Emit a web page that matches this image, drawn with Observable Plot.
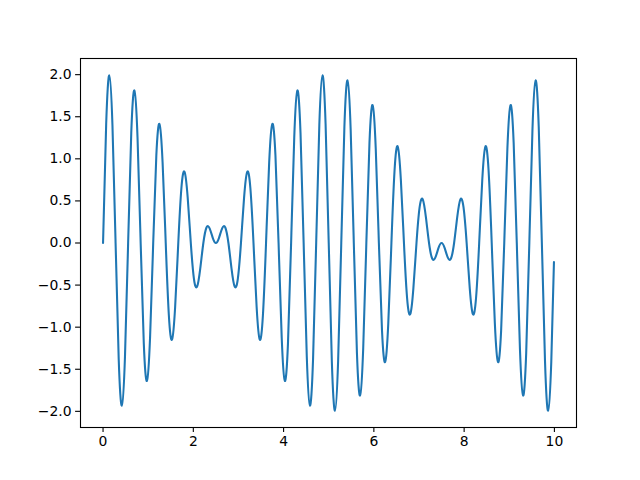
<!DOCTYPE html>
<html>
<head>
<meta charset="utf-8">
<script src="https://cdn.jsdelivr.net/npm/d3@7"></script>
<script src="https://cdn.jsdelivr.net/npm/@observablehq/plot@0.6"></script>
<style>
  html, body { margin: 0; padding: 0; background: #ffffff; }
</style>
</head>
<body>
<div id="chart"></div>
<script>
// Sample positions (x)
const xs = [
  0, 0.0694, 0.1389, 0.2083, 0.2778, 0.3472, 0.4167, 0.4861, 0.5556, 0.6250,
  0.6944, 0.7639, 0.8333, 0.9028, 0.9722, 1.0417, 1.1111, 1.1806, 1.2500, 1.3194,
  1.3889, 1.4583, 1.5278, 1.5972, 1.6667, 1.7361, 1.8056, 1.8750, 1.9444, 2.0139,
  2.0833, 2.1528, 2.2222, 2.2917, 2.3611, 2.4306, 2.5000, 2.5694, 2.6389, 2.7083,
  2.7778, 2.8472, 2.9167, 2.9861, 3.0556, 3.1250, 3.1944, 3.2639, 3.3333, 3.4028,
  3.4722, 3.5417, 3.6111, 3.6806, 3.7500, 3.8194, 3.8889, 3.9583, 4.0278, 4.0972,
  4.1667, 4.2361, 4.3056, 4.3750, 4.4444, 4.5139, 4.5833, 4.6528, 4.7222, 4.7917,
  4.8611, 4.9306, 5.0000, 5.0694, 5.1389, 5.2083, 5.2778, 5.3472, 5.4167, 5.4861,
  5.5556, 5.6250, 5.6944, 5.7639, 5.8333, 5.9028, 5.9722, 6.0417, 6.1111, 6.1806,
  6.2500, 6.3194, 6.3889, 6.4583, 6.5278, 6.5972, 6.6667, 6.7361, 6.8056, 6.8750,
  6.9444, 7.0139, 7.0833, 7.1528, 7.2222, 7.2917, 7.3611, 7.4306, 7.5000, 7.5694,
  7.6389, 7.7083, 7.7778, 7.8472, 7.9167, 7.9861, 8.0556, 8.1250, 8.1944, 8.2639,
  8.3333, 8.4028, 8.4722, 8.5417, 8.6111, 8.6806, 8.7500, 8.8194, 8.8889, 8.9583,
  9.0278, 9.0972, 9.1667, 9.2361, 9.3056, 9.3750, 9.4444, 9.5139, 9.5833, 9.6528,
  9.7222, 9.7917, 9.8611, 9.9306, 9.99
];

// Curve values (y) at those positions
const ys = [
  0, 1.4129, 1.9924, 1.4021, 0, -1.3807, -1.9319, -1.3488, 0, 1.3066,
  1.8126, 1.2544, 0, -1.1927, -1.6383, -1.1220, 0, 1.0427, 1.4142, 0.9554,
  0, -0.8609, -1.1472, -0.7599, 0, 0.6530, 0.8452, 0.5412, 0, -0.4253,
  -0.5176, -0.3061, 0, 0.1846, 0.1743, 0.0617, 0, 0.0617, 0.1743, 0.1846,
  0, -0.3061, -0.5176, -0.4253, 0, 0.5412, 0.8452, 0.6530, 0, -0.7599,
  -1.1472, -0.8609, 0, 0.9554, 1.4142, 1.0427, 0, -1.1220, -1.6383, -1.1927,
  0, 1.2544, 1.8126, 1.3066, 0, -1.3488, -1.9319, -1.3807, 0, 1.4021,
  1.9924, 1.4129, 0, -1.4129, -1.9924, -1.4021, 0, 1.3807, 1.9319, 1.3488,
  0, -1.3066, -1.8126, -1.2544, 0, 1.1927, 1.6383, 1.1220, 0, -1.0427,
  -1.4142, -0.9554, 0, 0.8609, 1.1472, 0.7599, 0, -0.6530, -0.8452, -0.5412,
  0, 0.4253, 0.5176, 0.3061, 0, -0.1846, -0.1743, -0.0617, 0, -0.0617,
  -0.1743, -0.1846, 0, 0.3061, 0.5176, 0.4253, 0, -0.5412, -0.8452, -0.6530,
  0, 0.7599, 1.1472, 0.8609, 0, -0.9554, -1.4142, -1.0427, 0, 1.1220,
  1.6383, 1.1927, 0, -1.2544, -1.8126, -1.3066, 0, 1.3488, 1.9319, 1.3807,
  0, -1.4021, -1.9924, -1.4129, -0.226
];

const xTicks = [0, 2, 4, 6, 8, 10];
const yTicks = [-2.0, -1.5, -1.0, -0.5, 0.0, 0.5, 1.0, 1.5, 2.0];

const data = xs.map((x, i) => ({x, y: ys[i]}));

const chart = Plot.plot({
  width: 640,
  height: 480,
  marginLeft: 80,
  marginRight: 64,
  marginTop: 58,
  marginBottom: 53,
  style: {fontFamily: "DejaVu Sans", fontSize: "13.9px", color: "#000", background: "#fff"},
  x: {domain: [-0.4995, 10.4895]},
  y: {domain: [-2.192, 2.192]},
  marks: [
    Plot.line(data, {x: "x", y: "y", curve: "natural", stroke: "#1f77b4", strokeWidth: 2.08}),
    Plot.frame({stroke: "#000", strokeWidth: 1.1}),
    Plot.axisX({ticks: xTicks, tickSize: 4.9, tickPadding: 4, strokeWidth: 1.1, label: null, tickFormat: d3.format("d")}),
    Plot.axisY({ticks: yTicks, tickSize: 4.9, tickPadding: 4, strokeWidth: 1.1, label: null, tickFormat: d3.format(".1f")})
  ]
});

document.getElementById("chart").appendChild(chart);
</script>
</body>
</html>
